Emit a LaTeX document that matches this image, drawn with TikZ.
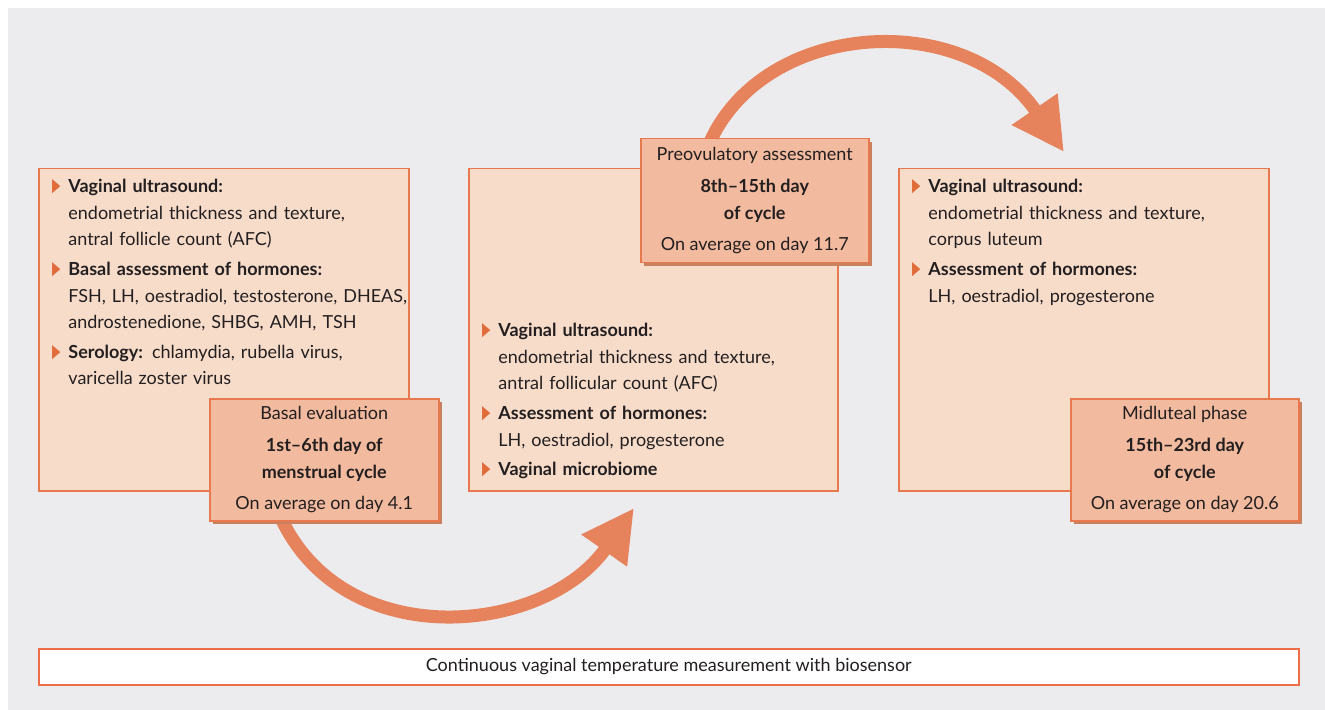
\documentclass[tikz,border=0pt]{standalone}
\usepackage{fontspec}
\setmainfont{Lato}
\newfontfamily\glyphs{DejaVu Sans}
\usetikzlibrary{arrows.meta, positioning, shadows}

\definecolor{backdrop}{HTML}{ECECEE}
\definecolor{panelfill}{HTML}{F8DCCA}
\definecolor{tagfill}{HTML}{F2BA9E}
\definecolor{tagshade}{HTML}{C9805F}
\definecolor{edge}{HTML}{E8794F}
\definecolor{baredge}{HTML}{EC6E46}
\definecolor{swoop}{HTML}{E6825C}
\definecolor{cuecolor}{HTML}{E06B3B}
\definecolor{ink}{HTML}{231F20}

\newcommand{\cue}{\leavevmode\llap{\textcolor{cuecolor}{\raisebox{0.4pt}{\resizebox{4.2pt}{6pt}{\glyphs ▶}}}\hspace{4pt}}}

\begin{document}
\begin{tikzpicture}[x=0.5pt, y=-0.5pt,
    panel/.style={draw=edge, line width=0.75pt, fill=panelfill, inner sep=0pt, anchor=north west},
    tag/.style={draw=edge, line width=0.75pt, fill=tagfill, inner sep=0pt, anchor=north west,
        align=center, text=ink,
        drop shadow={shadow xshift=1.5pt, shadow yshift=-1.5pt, fill=tagshade, opacity=1}},
    list/.style={anchor=north west, inner sep=0pt, align=left, text width=200pt, text=ink},
    loop/.style={line width=6.5pt, draw=swoop, -{Triangle[length=26pt, width=26pt]}},
    font=\fontsize{9}{13.3}\selectfont]

    \useasboundingbox (0,0) rectangle (1325,710);
    \fill[backdrop] (8,8) rectangle (1325,710);

    % the three phases
    \node[panel, minimum width=185pt, minimum height=161pt] (basalbox) at (38,168) {};
    \node[panel, minimum width=184.5pt, minimum height=161pt] (preovbox) at (468,168) {};
    \node[panel, minimum width=185pt, minimum height=161pt] (lutealbox) at (898,168) {};

    \node[list] (basallist) at (68,179) {\cue\textbf{Vaginal ultrasound:}\\
        endometrial thickness and texture,\\
        antral follicle count (AFC)\\[1.5pt]
        \cue\textbf{Basal assessment of hormones:}\\
        FSH, LH, oestradiol, testosterone, DHEAS,\\
        androstenedione, SHBG, AMH, TSH\\[1.5pt]
        \cue\textbf{Serology:} chlamydia, rubella virus,\\
        varicella zoster virus};

    \node[list] (preovlist) at (498,323) {\cue\textbf{Vaginal ultrasound:}\\
        endometrial thickness and texture,\\
        antral follicular count (AFC)\\[1.5pt]
        \cue\textbf{Assessment of hormones:}\\
        LH, oestradiol, progesterone\\[1.5pt]
        \cue\textbf{Vaginal microbiome}};

    \node[list] (lutealist) at (928,179) {\cue\textbf{Vaginal ultrasound:}\\
        endometrial thickness and texture,\\
        corpus luteum\\[1.5pt]
        \cue\textbf{Assessment of hormones:}\\
        LH, oestradiol, progesterone};

    % arrows between the phases
    \coordinate (lowstart) at (281,518);
    \coordinate (lowend) at (634,508);
    \coordinate (highstart) at (710,142);
    \coordinate (highend) at (1064,152);
    \draw[loop] (lowstart) .. controls (345,655) and (545,635) .. (lowend);
    \draw[loop] (highstart) .. controls (765,20) and (965,8) .. (highend);

    \node[tag, minimum width=114.5pt, minimum height=61pt] (basaltag) at (209,398)
        {Basal evaluation\\[2.5pt] \textbf{1st–6th day of}\\ \textbf{menstrual cycle}\\[2.5pt] On average on day 4.1};
    \node[tag, minimum width=114pt, minimum height=62pt] (preovtag) at (640,138)
        {Preovulatory assessment\\[2.5pt] \textbf{8th–15th day}\\ \textbf{of cycle}\\[2.5pt] On average on day 11.7};
    \node[tag, minimum width=114pt, minimum height=61pt] (lutealtag) at (1070,398)
        {Midluteal phase\\[2.5pt] \textbf{15th–23rd day}\\ \textbf{of cycle}\\[2.5pt] On average on day 20.6};

    \node[anchor=north west, draw=baredge, line width=0.75pt, fill=white, text=ink,
        minimum width=630pt, minimum height=18pt, inner sep=0pt] (sensorbar) at (38,648)
        {Continuous vaginal temperature measurement with biosensor};
\end{tikzpicture}
\end{document}
